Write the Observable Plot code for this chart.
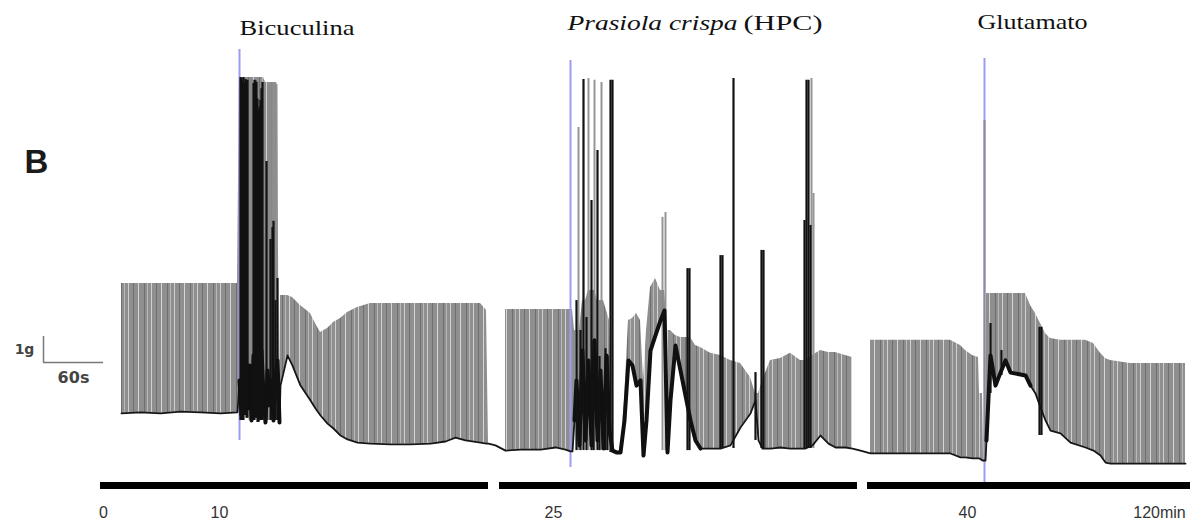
<!DOCTYPE html>
<html><head><meta charset="utf-8">
<script src="https://cdn.jsdelivr.net/npm/d3@7"></script>
<script src="https://cdn.jsdelivr.net/npm/@observablehq/plot@0.6"></script>
<style>body{margin:0;background:#fff}#chart{width:1195px;height:522px}</style>
</head><body><div id="chart"></div>
<script>
// ---------- DATA (time in s, tension in g) ----------
// contraction envelope of the recording: baseline and peak tension
const traceTime = [
  21,40,60,80,100,120,137,
  139,141,143,145,147,149,151,153,155,157,159,161,163,165,167,169,171,173,175,177,179,
  180,187,192,200,210,215,220,227,233,240,247,257,270,290,310,330,345,355,365,380,386,388,395,405,
  405,420,440,455,465,470,472,
  474,476,479,482,485,488,491,494,497,500,503,506,509,512,516,520,524,528,532,536,540,543,546,550,555,560,564,567,570,575,580,585,590,595,600,610,620,630,640,645,650,655,658,662,670,680,690,700,705,712,720,728,735,745,752,
  752,760,770,
  770,790,810,830,850,860,865,872,878,879,882,883,
  885,886,890,895,900,905,910,920,925,930,935,940,945,950,960,970,985,993,1000,1005,1010,1030,1050,1070,1085,1085
];
const traceBase = [
  1.81,1.85,1.81,1.88,1.85,1.81,1.85,
  3.08,1.73,2.5,4.42,2.0,3.65,1.54,4.04,2.31,3.85,1.62,4.23,2.5,1.46,3.46,2.12,3.08,1.54,3.27,3.85,1.46,
  2.88,4.04,3.65,2.88,2.31,2.0,1.73,1.42,1.23,0.96,0.81,0.69,0.65,0.62,0.62,0.65,0.73,0.88,0.77,0.69,0.65,0.65,0.58,0.38,
  0.38,0.42,0.42,0.5,0.42,0.35,0.35,
  1.54,3.08,0.58,4.23,0.77,3.85,0.58,4.62,0.77,3.46,0.46,4.04,1.15,0.38,0.31,0.31,1.54,3.85,3.65,2.88,3.08,0.19,1.54,4.23,4.81,5.38,5.77,0.31,2.31,4.42,3.46,2.5,1.54,0.77,0.46,0.46,0.46,0.58,1.27,1.54,1.81,2.31,0.77,0.46,0.46,0.5,0.46,0.46,0.46,0.58,0.96,0.65,0.5,0.5,0.46,
  0.46,0.38,0.27,
  0.27,0.27,0.27,0.27,0.27,0.12,0.12,0.08,0.08,0.08,0,0,
  0,0.77,4.04,2.88,3.38,3.85,3.38,3.31,3.27,2.88,2.58,2.04,1.54,1.15,1.04,0.69,0.5,0.38,0.19,-0.08,-0.12,-0.12,-0.12,-0.12,-0.12,-0.12
];
const tracePeak = [
  6.81,6.81,6.81,6.81,6.81,6.81,6.81,
  14.73,14.73,14.73,14.73,14.73,14.73,14.73,14.73,14.73,14.73,14.73,14.73,14.73,14.54,14.54,14.54,14.54,14.54,14.54,14.54,1.46,
  6.35,6.35,6.27,5.96,5.65,5.27,4.92,5.08,5.31,5.46,5.69,5.88,6.04,6.04,6.04,6.04,6.04,6.04,6.04,6.04,5.77,0.65,0.58,0.38,
  5.81,5.81,5.81,5.81,5.81,5.81,5.81,
  5.0,5.0,5.0,6.15,6.15,6.54,6.54,6.54,6.15,6.15,6.15,5.77,5.38,0.38,0.31,0.31,2.31,5.38,5.46,5.65,5.38,3.08,5.0,6.65,7.0,6.54,6.54,5.0,5.0,4.81,4.73,4.73,4.73,4.42,4.35,4.12,4.04,3.85,3.73,3.46,3.19,2.58,2.58,3.08,3.85,3.92,4.12,3.85,3.85,4.04,4.23,4.15,4.15,4.04,3.96,
  0.46,0.38,0.27,
  4.62,4.62,4.62,4.62,4.62,4.42,4.23,4.04,3.96,2.58,2.58,0,
  0,6.42,6.42,6.42,6.42,6.42,6.42,6.42,6.42,5.96,5.65,5.27,4.88,4.69,4.62,4.62,4.62,4.5,4.12,3.92,3.85,3.73,3.73,3.73,3.73,-0.12
];
// periods where the tracing pen draws a heavy black band
const heavyFrom = [139, 474, 886];
const heavyTo = [179, 600, 930];

// individual strong contractions (spikes)
const spikeTime = [140,141,142,143,144,145,146,147,149,151,153,154,155,156,157,158,159,160,161,162,164,166,168,170,171,172,173,175,176,177,
  476,478,480,483,486,488,491,493,494,497,499,501,505,507,510,512,562,565,587,589,620,622,633,655,661,663,704,706,708,710,711,713,
  884,890,901,939,941];
const spikeBase = [1.54,1.54,1.54,1.54,1.73,1.73,1.62,1.62,1.54,1.54,1.54,1.54,1.62,1.62,1.46,1.46,1.54,1.54,1.54,1.54,1.54,1.54,1.54,1.54,1.54,1.54,1.54,1.54,1.54,1.54,
  0.38,0.38,0.38,0.38,0.38,0.38,0.38,0.38,0.38,0.38,0.38,0.38,0.38,0.38,0.31,0.31,0.38,0.38,0.38,0.38,0.46,0.46,0.46,0.77,0.46,0.46,0.46,0.46,0.46,0.46,0.46,0.46,
  0,2.58,3.27,0.96,0.96];
const spikeTop = [14.73,14.69,14.6,14.73,14.5,14.65,14.6,14.62,14.69,14.69,14.5,14.62,14.6,14.54,13.9,13.46,13.6,13.85,14.3,14.54,14.54,11.5,14.42,8.5,14.54,8.96,9.2,6.15,14.46,7.0,
  6.15,12.81,5.0,14.65,5.5,14.69,10.0,4.6,14.62,11.92,4.0,14.54,4.3,4.0,14.62,14.62,9.35,9.54,7.38,7.38,7.88,7.88,14.69,3.38,8.08,8.08,9.23,14.62,14.62,9.04,14.69,10.27,
  13.08,5.27,4.23,5.12,5.12];
const spikeTone = ["dark","dark","dark","dark","dark","dark","dark","dark","light","light","dark","dark","dark","dark","dark","dark","dark","dark","dark","dark","light","dark","light","dark","light","dark","dark","dark","light","dark",
  "dark","light","dark","dark","dark","light","dark","dark","light","dark","dark","light","dark","dark","dark","dark","light","light","dark","dark","dark","dark","dark","dark","dark","dark","dark","dark","dark","dark","light","light",
  "light","dark","dark","dark","dark"];

// drug applications
const eventNames = ["Bicuculina","Prasiola crispa","Glutamato"];
const eventTime = [139,470,884];
const eventTop = [15.81,15.38,15.46];
const eventBottom = [0.77,-0.27,-0.85];

// time axis (recording bars and labels)
const timeLabels = ["0","10","25","40","120min"];
const timeLabelAt = [3,119,453,867,1059];
const barStart = [0,399,767];
const barEnd = [388,757,1090];
const barLevel = -0.96;

// calibration bar
const scaleBarGrams = 1, scaleBarSeconds = 60;
const scaleBarT = -57, scaleBarG = 3.77;

// ---------- BUILD ----------
if (traceBase.length !== traceTime.length || tracePeak.length !== traceTime.length) throw new Error("trace length mismatch " + traceTime.length + " " + traceBase.length + " " + tracePeak.length);
if (spikeBase.length !== spikeTime.length || spikeTop.length !== spikeTime.length || spikeTone.length !== spikeTime.length) throw new Error("spike length mismatch " + [spikeTime.length, spikeBase.length, spikeTop.length, spikeTone.length]);

const trace = traceTime.map((t,i)=>({t, base: traceBase[i], peak: tracePeak[i]}));
const heavy = [];
heavyFrom.forEach((a,k)=>trace.forEach(d=>{ if (d.t>=a && d.t<=heavyTo[k]) heavy.push({...d, span:k}); }));
const spikes = spikeTime.map((t,i)=>({t, base: spikeBase[i], top: spikeTop[i], tone: spikeTone[i]}));
const events = eventNames.map((name,i)=>({name, t: eventTime[i], top: eventTop[i], bottom: eventBottom[i]}));
const bars = barStart.map((s,i)=>({s, e: barEnd[i]}));
const ticks = timeLabels.map((label,i)=>({label, t: timeLabelAt[i]}));

const serif = "'Liberation Serif','Times New Roman',serif";
const sans = "'Liberation Sans',Arial,sans-serif";

const svg = Plot.plot({
  width: 1195, height: 522, margin: 0,
  style: {background: "#fff"},
  x: {domain: [-100, 1095], axis: null},
  y: {domain: [-2.385, 17.692], axis: null},
  color: {domain: ["dark","light"], range: ["#121212","#8a8a8a"]},
  marks: [
    Plot.areaY(trace, {x: "t", y1: "base", y2: "peak", fill: "url(#stripes)", curve: "linear"}),
    Plot.ruleX(events, {x: "t", y1: "bottom", y2: "top", stroke: "#9c9cf0", strokeWidth: 2}),
    Plot.ruleX(spikes.filter(d=>d.tone==="light"), {x: "t", y1: "base", y2: "top", stroke: "tone", strokeWidth: 2, strokeOpacity: 0.9}),
    Plot.line(trace, {x: "t", y: "base", stroke: "#161616", strokeWidth: 1.8}),
    Plot.line(heavy, {x: "t", y: "base", z: "span", stroke: "#101010", strokeWidth: 4}),
    Plot.ruleX(spikes.filter(d=>d.tone==="dark"), {x: "t", y1: "base", y2: "top", stroke: "tone", strokeWidth: 2.2}),
    // recording bars
    Plot.ruleY(bars, {y: barLevel, x1: "s", x2: "e", stroke: "#000", strokeWidth: 7}),
    Plot.text(ticks, {x: "t", text: "label", frameAnchor: "bottom", dy: -10, lineAnchor: "middle", fontSize: 16, fontFamily: sans, fill: "#333"}),
    // calibration bar
    Plot.ruleX([scaleBarT], {x: d=>d, y1: scaleBarG, y2: scaleBarG + scaleBarGrams, stroke: "#777", strokeWidth: 1.5}),
    Plot.ruleY([scaleBarG], {y: d=>d, x1: scaleBarT, x2: scaleBarT + scaleBarSeconds, stroke: "#777", strokeWidth: 1.5}),
    Plot.text(["1g"], {x: scaleBarT, y: scaleBarG + scaleBarGrams/2, text: d=>d, dx: -19, textAnchor: "middle", lineAnchor: "middle", fontSize: 14, fontWeight: "bold", fontFamily: "'DejaVu Sans',sans-serif", fill: "#444"}),
    Plot.text(["60s"], {x: scaleBarT + scaleBarSeconds/2, y: scaleBarG, text: d=>d, dy: 15, textAnchor: "middle", lineAnchor: "middle", fontSize: 16, fontWeight: "bold", fontFamily: "'DejaVu Sans',sans-serif", fill: "#444"}),
    // panel letter
    Plot.text(["B"], {text: d=>d, frameAnchor: "top-left", dx: 36, dy: 162, textAnchor: "middle", lineAnchor: "middle", fontSize: 33, fontWeight: "bold", fontFamily: sans, fill: "#1a1a1a"}),
    // drug labels
    Plot.text(events.filter(d=>d.name==="Bicuculina"), {x: "t", text: "name", frameAnchor: "top", dy: 28, textAnchor: "start", lineAnchor: "middle", fontSize: 21, fontFamily: serif, fill: "#111"}),
    Plot.text(events.filter(d=>d.name==="Glutamato"), {x: "t", text: "name", frameAnchor: "top", dy: 22, dx: -7, textAnchor: "start", lineAnchor: "middle", fontSize: 21, fontFamily: serif, fill: "#111"}),
    Plot.text(events.filter(d=>d.name==="Prasiola crispa"), {x: "t", text: "name", frameAnchor: "top", dy: 23, dx: -3, textAnchor: "start", lineAnchor: "middle", fontSize: 21, fontStyle: "italic", fontFamily: serif, fill: "#111"}),
    Plot.text(events.filter(d=>d.name==="Prasiola crispa"), {x: "t", text: ()=>"(HPC)", frameAnchor: "top", dy: 23, dx: 173, textAnchor: "start", lineAnchor: "middle", fontSize: 21, fontFamily: serif, fill: "#111"})
  ]
});

// stripe pattern for the contraction envelope
d3.select(svg).insert("defs", ":first-child").html(
  '<pattern id="stripes" patternUnits="userSpaceOnUse" width="23" height="8">' +
  '<rect width="23" height="8" fill="#8f8f8f"/>' +
  '<rect x="0" width="1" height="8" fill="#d6d6d6"/>' +
  '<rect x="6" width="1" height="8" fill="#6f6f6f"/>' +
  '<rect x="9" width="1" height="8" fill="#b8b8b8"/>' +
  '<rect x="13" width="1" height="8" fill="#d0d0d0"/>' +
  '<rect x="18" width="1" height="8" fill="#707070"/>' +
  '</pattern>');

// stretch drug labels like the original figure
const labelWidths = {"Bicuculina": 115, "Glutamato": 110, "Prasiola crispa": 170, "(HPC)": 79};
d3.select(svg).selectAll("text").each(function(){
  const w = labelWidths[this.textContent];
  if (w) { this.setAttribute("textLength", w); this.setAttribute("lengthAdjust", "spacingAndGlyphs"); }
});

document.getElementById("chart").appendChild(svg);
</script>
</body></html>
